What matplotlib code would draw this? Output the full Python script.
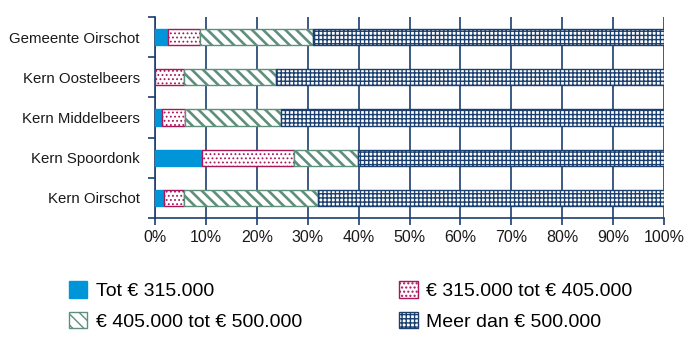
import numpy as np
import matplotlib
matplotlib.use("Agg")
import matplotlib.pyplot as plt
from matplotlib.patches import Patch

# share of homes per price class (percent), per area
areas = ["Gemeente Oirschot", "Kern Oostelbeers", "Kern Middelbeers",
         "Kern Spoordonk", "Kern Oirschot"]
tot_315 = [2.6, 0.0, 1.4, 9.2, 1.8]
van_315_405 = [6.2, 5.7, 4.5, 18.1, 3.9]
van_405_500 = [22.3, 18.1, 18.9, 12.6, 26.4]
meer_500 = [68.9, 76.2, 75.2, 60.1, 67.9]
labels = ["Tot € 315.000", "€ 315.000 tot € 405.000",
          "€ 405.000 tot € 500.000", "Meer dan € 500.000"]

navy = "#1b3f6e"
blue = "#0095d9"
red = "#a8175a"
green = "#5f8f7c"

plt.rcParams["font.family"] = ["Liberation Sans", "DejaVu Sans"]

fig = plt.figure(figsize=(6.88, 3.44), dpi=100)
ax = fig.add_axes([155 / 688, 1 - 218 / 344, 509 / 688, 201 / 344])

y = np.arange(len(areas))
styles = [
    dict(color=blue, edgecolor=blue, hatch=None, hlw=1.0),
    dict(color="white", edgecolor=red, hatch="....", hlw=0.8),
    dict(color="white", edgecolor=green, hatch="\\\\\\", hlw=1.9),
    dict(color="white", edgecolor=navy, hatch="++++", hlw=1.0),
]
left = np.zeros(len(areas))
for vals, st in zip([tot_315, van_315_405, van_405_500, meer_500], styles):
    vals = np.array(vals)
    with plt.rc_context({"hatch.linewidth": st["hlw"]}):
        ax.barh(y, vals, left=left, height=0.4, color=st["color"],
                edgecolor=st["edgecolor"], hatch=st["hatch"], linewidth=1.0,
                zorder=3)
    left += vals

ax.set_xlim(0, 100)
ax.set_ylim(len(areas) - 0.5, -0.5)
ax.set_xticks(np.arange(0, 101, 10))
ax.set_xticklabels([f"{v}%" for v in range(0, 101, 10)])
ax.set_yticks(y)
ax.set_yticklabels(areas)
ax.set_yticks(np.arange(-0.5, len(areas)), minor=True)
ax.tick_params(axis="y", which="major", length=0, pad=11, labelsize=10.8,
               labelcolor="#1a1a1a")
ax.tick_params(axis="y", which="minor", length=5, color=navy, width=1.2)
ax.tick_params(axis="x", length=5, color=navy, width=1.2, labelsize=11.5,
               labelcolor="#1a1a1a", pad=4)
ax.xaxis.grid(True, color=navy, linewidth=1.2, zorder=0)
for s in ["top", "right"]:
    ax.spines[s].set_visible(False)
for s in ["left", "bottom"]:
    ax.spines[s].set_color(navy)
    ax.spines[s].set_linewidth(1.2)

handles = []
for st, lab in zip(styles, labels):
    with plt.rc_context({"hatch.linewidth": st["hlw"]}):
        handles.append(Patch(facecolor=st["color"], edgecolor=st["edgecolor"],
                             hatch=st["hatch"], label=lab))
fig.legend(handles=[handles[0], handles[2], handles[1], handles[3]],
           labels=[labels[0], labels[2], labels[1], labels[3]],
           ncol=2, loc="lower left", bbox_to_anchor=(51 / 688, -0.012),
           frameon=False, fontsize=14, handlelength=0.95, handleheight=0.95,
           handletextpad=0.45, columnspacing=5.0, labelspacing=0.6)

fig.savefig("out.png", dpi=100)
